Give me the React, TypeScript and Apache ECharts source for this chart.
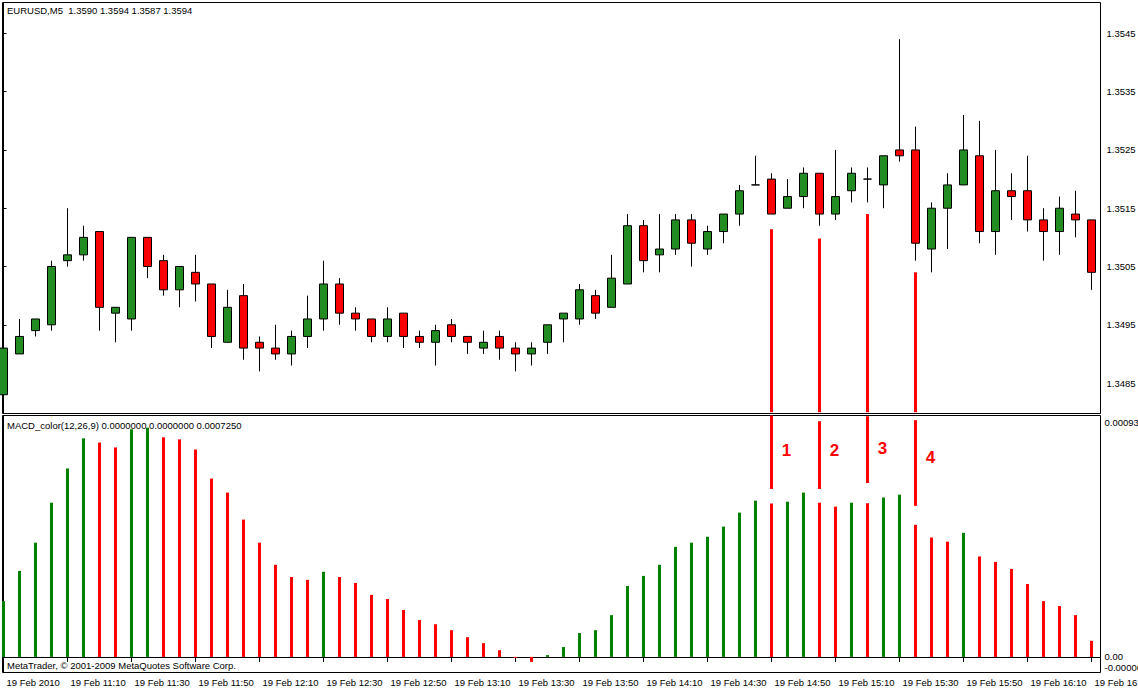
import React, { useEffect, useRef } from "react";
import * as echarts from "echarts";

// ---------- data ----------
const timeTickBars = [0, 4, 8, 12, 16, 20, 24, 28, 32, 36, 40, 44, 48, 52, 56, 60, 64, 68];
const timeTickLabels = [
  "19 Feb 2010", "19 Feb 11:10", "19 Feb 11:30", "19 Feb 11:50", "19 Feb 12:10", "19 Feb 12:30",
  "19 Feb 12:50", "19 Feb 13:10", "19 Feb 13:30", "19 Feb 13:50", "19 Feb 14:10", "19 Feb 14:30",
  "19 Feb 14:50", "19 Feb 15:10", "19 Feb 15:30", "19 Feb 15:50", "19 Feb 16:10", "19 Feb 16:30",
];

const opens = [
  1.3483, 1.3490, 1.3494, 1.3495, 1.3506, 1.3507, 1.3511, 1.3497, 1.3496, 1.3510,
  1.3506, 1.3501, 1.3504, 1.3502, 1.3492, 1.3500, 1.3492, 1.3491, 1.3490, 1.3493,
  1.3496, 1.3502, 1.3497, 1.3496, 1.3493, 1.3497, 1.3493, 1.3492, 1.3495, 1.3493,
  1.3491, 1.3493, 1.3491, 1.3490, 1.3492, 1.3496, 1.3496, 1.3500, 1.3498, 1.3502,
  1.3512, 1.3507, 1.3508, 1.3513, 1.3508, 1.3511, 1.3514, 1.3519, 1.3520, 1.3515,
  1.3517, 1.3521, 1.3514, 1.3518, 1.3520, 1.3519, 1.3525, 1.3525, 1.3508, 1.3515,
  1.3519, 1.3524, 1.3511, 1.3518, 1.3518, 1.3513, 1.3511, 1.3514, 1.3513,
];
const highs = [
  1.3496, 1.3496, 1.3496, 1.3506, 1.3515, 1.3512, 1.3511, 1.3498, 1.3510, 1.3510,
  1.3507, 1.3505, 1.3507, 1.3502, 1.3501, 1.3502, 1.3493, 1.3495, 1.3494, 1.3500,
  1.3506, 1.3503, 1.3498, 1.3496, 1.3498, 1.3497, 1.3494, 1.3495, 1.3496, 1.3493,
  1.3494, 1.3494, 1.3492, 1.3492, 1.3495, 1.3497, 1.3502, 1.3501, 1.3507, 1.3514,
  1.3513, 1.3514, 1.3514, 1.3514, 1.3512, 1.3514, 1.3519, 1.3524, 1.3521, 1.3520,
  1.3522, 1.3521, 1.3525, 1.3522, 1.3522, 1.3524, 1.3544, 1.3529, 1.3516, 1.3521,
  1.3531, 1.3530, 1.3525, 1.3521, 1.3524, 1.3515, 1.3517, 1.3518, 1.3513,
];
const lows = [
  1.3483, 1.3490, 1.3493, 1.3494, 1.3505, 1.3506, 1.3494, 1.3492, 1.3494, 1.3503,
  1.3500, 1.3498, 1.3499, 1.3491, 1.3492, 1.3489, 1.3487, 1.3489, 1.3488, 1.3491,
  1.3494, 1.3495, 1.3494, 1.3492, 1.3492, 1.3491, 1.3491, 1.3488, 1.3492, 1.3490,
  1.3490, 1.3489, 1.3487, 1.3488, 1.3490, 1.3492, 1.3495, 1.3496, 1.3498, 1.3502,
  1.3504, 1.3504, 1.3507, 1.3505, 1.3507, 1.3509, 1.3512, 1.3519, 1.3514, 1.3515,
  1.3515, 1.3512, 1.3513, 1.3516, 1.3516, 1.3515, 1.3523, 1.3506, 1.3504, 1.3508,
  1.3519, 1.3509, 1.3507, 1.3513, 1.3511, 1.3506, 1.3507, 1.3510, 1.3501,
];
const closes = [
  1.3491, 1.3493, 1.3496, 1.3505, 1.3507, 1.3510, 1.3498, 1.3498, 1.3510, 1.3505,
  1.3501, 1.3505, 1.3502, 1.3493, 1.3498, 1.3491, 1.3491, 1.3490, 1.3493, 1.3496,
  1.3502, 1.3497, 1.3496, 1.3493, 1.3496, 1.3493, 1.3492, 1.3494, 1.3493, 1.3492,
  1.3492, 1.3491, 1.3490, 1.3491, 1.3495, 1.3497, 1.3501, 1.3497, 1.3503, 1.3512,
  1.3506, 1.3508, 1.3513, 1.3509, 1.3511, 1.3514, 1.3518, 1.3519, 1.3514, 1.3517,
  1.3521, 1.3514, 1.3517, 1.3521, 1.3520, 1.3524, 1.3524, 1.3509, 1.3515, 1.3519,
  1.3525, 1.3511, 1.3518, 1.3517, 1.3513, 1.3511, 1.3515, 1.3513, 1.3504,
];

const macdHist = [
  0.000215, 0.000331, 0.000440, 0.000594, 0.000726, 0.000842, 0.000826, 0.000807, 0.000877, 0.000883,
  0.000846, 0.000838, 0.000799, 0.000687, 0.000633, 0.000529, 0.000440, 0.000355, 0.000308, 0.000297,
  0.000328, 0.000308, 0.000285, 0.000239, 0.000223, 0.000181, 0.000142, 0.000126, 0.000103, 0.000076,
  0.000053, 0.000026, -0.000004, -0.000019, 0.000007, 0.000038, 0.000092, 0.000103, 0.000161, 0.000273,
  0.000312, 0.000355, 0.000424, 0.000440, 0.000463, 0.000502, 0.000556, 0.000602, 0.000591, 0.000598,
  0.000633, 0.000594, 0.000579, 0.000594, 0.000592, 0.000614, 0.000625, 0.000509, 0.000460, 0.000444,
  0.000478, 0.000387, 0.000366, 0.000339, 0.000281, 0.000215, 0.000196, 0.000161, 0.000062,
];

const priceTicks = [1.3485, 1.3495, 1.3505, 1.3515, 1.3525, 1.3535, 1.3545];
const macdTicks = [0.00093, 0, -0.00006];
const macdTickLabels = ["0.00093", "0.00", "-0.00006"];

const signalBars = [48, 51, 54, 57];
const signalLabels = ["1", "2", "3", "4"];
const signalPriceTop = [1.35114, 1.35098, 1.3514, 1.3504];
const signalPriceBottom = [1.348, 1.348, 1.348, 1.348];
const signalMacdTop = [0.00093, 0.000908, 0.000927, 0.000912];
const signalMacdBottom = [0.000647, 0.000647, 0.00067, 0.000582];
const signalLabelValue = [0.000796, 0.000796, 0.000801, 0.000769];

const headerText = "EURUSD,M5  1.3590 1.3594 1.3587 1.3594";
const macdHeaderText = "MACD_color(12,26,9) 0.0000000 0.0000000 0.0007250";
const copyrightText = "MetaTrader, \u00a9 2001-2009 MetaQuotes Software Corp.";

// ---------- styling ----------
const FONT = '"Liberation Sans", Arial, sans-serif';
const FS = 9.5;
const X_MIN = -0.0625;
const X_MAX = 68.5625;
const CANDLE_UP = "#228B22";
const CANDLE_DOWN = "#FF0000";
const HIST_UP = "#008000";
const HIST_DOWN = "#FF0000";

export default function App() {
  const ref = useRef<HTMLDivElement>(null);

  useEffect(() => {
    document.body.style.margin = "0";
    if (!ref.current) return;
    const chart = echarts.init(ref.current, undefined, { renderer: "svg" });

    const candleData = opens.map((o, i) => [i, o, closes[i], lows[i], highs[i]]);
    const histData = macdHist.map((v, i) => ({
      value: [i, v],
      itemStyle: { color: i === 0 || v > macdHist[i - 1] ? HIST_UP : HIST_DOWN },
    }));

    const gridBase = {
      left: 2.5,
      right: 37.5,
      show: true,
      borderColor: "#000",
      borderWidth: 1,
      backgroundColor: "#fff",
      containLabel: false,
      outerBoundsMode: "none",
    };

    const option: any = {
      animation: false,
      backgroundColor: "#ffffff",
      grid: [
        { ...gridBase, top: 2.5, height: 411 },
        { ...gridBase, top: 415.5, height: 257 },
      ],
      xAxis: [
        { type: "value", gridIndex: 0, min: X_MIN, max: X_MAX, show: false },
        {
          type: "value",
          gridIndex: 1,
          min: X_MIN,
          max: X_MAX,
          splitLine: { show: false },
          axisLine: { show: true, lineStyle: { color: "#000", width: 1 } },
          axisTick: { show: true, customValues: timeTickBars, length: 5, inside: false, lineStyle: { color: "#000" } },
          axisLabel: {
            customValues: timeTickBars,
            formatter: (v: number) => {
              const k = timeTickBars.indexOf(Math.round(v));
              return k >= 0 ? timeTickLabels[k] : "";
            },
            align: "left",
            padding: [0, 0, 0, 3],
            margin: 5,
            color: "#000",
            fontSize: FS,
            fontFamily: FONT,
          },
        },
      ],
      yAxis: [
        {
          type: "value",
          gridIndex: 0,
          position: "right",
          min: 1.347978,
          max: 1.35503,
          splitLine: { show: false },
          axisLine: { show: true, lineStyle: { color: "#000", width: 1 } },
          axisTick: { show: true, customValues: priceTicks, length: 3, lineStyle: { color: "#000" } },
          axisLabel: {
            customValues: priceTicks,
            formatter: (v: number) => v.toFixed(4),
            margin: 6,
            color: "#000",
            fontSize: FS,
            fontFamily: FONT,
          },
        },
        {
          type: "value",
          gridIndex: 1,
          position: "right",
          min: -0.00006,
          max: 0.00093,
          splitLine: { show: false },
          axisLine: { show: true, lineStyle: { color: "#000", width: 1 } },
          axisTick: { show: true, customValues: macdTicks, length: 3, lineStyle: { color: "#000" } },
          axisLabel: {
            customValues: macdTicks,
            formatter: (v: number) => {
              let k = 0;
              macdTicks.forEach((t, j) => {
                if (Math.abs(t - v) < 1e-9) k = j;
              });
              return "{" + ["t", "m", "b"][k] + "|" + macdTickLabels[k] + "}";
            },
            margin: 4,
            color: "#000",
            fontSize: FS,
            fontFamily: FONT,
            rich: {
              t: { padding: [13, 0, 0, 0], color: "#000", fontSize: FS, fontFamily: FONT },
              m: { color: "#000", fontSize: FS, fontFamily: FONT },
              b: { padding: [0, 0, 11, 0], color: "#000", fontSize: FS, fontFamily: FONT },
            },
          },
        },
      ],
      series: [
        {
          type: "candlestick",
          xAxisIndex: 0,
          yAxisIndex: 0,
          data: candleData,
          encode: { x: 0, y: [1, 2, 3, 4] },
          barWidth: 9,
          itemStyle: {
            color: CANDLE_UP,
            color0: CANDLE_DOWN,
            borderColor: "#000",
            borderColor0: "#000",
            borderColorDoji: "#000",
            borderWidth: 1,
          },
          emphasis: { disabled: true },
          markLine: {
            silent: true,
            symbol: ["none", "none"],
            label: { show: false },
            lineStyle: { color: "#FF0000", width: 3, type: "solid" },
            emphasis: { disabled: true },
            data: signalBars.map((b, i) => [
              { coord: [b, signalPriceTop[i]] },
              { coord: [b, signalPriceBottom[i]] },
            ]),
          },
        },
        {
          type: "bar",
          xAxisIndex: 1,
          yAxisIndex: 1,
          data: histData,
          barWidth: 3,
          emphasis: { disabled: true },
          markLine: {
            silent: true,
            symbol: ["none", "none"],
            label: { show: false },
            lineStyle: { color: "#FF0000", width: 3, type: "solid" },
            emphasis: { disabled: true },
            data: signalBars.map((b, i) => [
              { coord: [b, signalMacdTop[i]] },
              { coord: [b, signalMacdBottom[i]] },
            ]),
          },
          markPoint: {
            silent: true,
            data: signalBars.map((b, i) => ({
              coord: [b, signalLabelValue[i]],
              symbol: "rect",
              symbolSize: 1,
              itemStyle: { color: "rgba(0,0,0,0)" },
              label: {
                show: true,
                formatter: signalLabels[i],
                position: "inside",
                offset: [15, 0],
                color: "#FF0000",
                fontSize: 17,
                fontWeight: "bold",
                fontFamily: FONT,
              },
            })),
          },
        },
      ],
      graphic: [
        { type: "text", x: 7, y: 10, z: 10, style: { text: headerText, fill: "#000", font: `${FS}px ${FONT}`, verticalAlign: "middle" } },
        { type: "text", x: 7, y: 425.5, z: 10, style: { text: macdHeaderText, fill: "#000", font: `${FS}px ${FONT}`, verticalAlign: "middle" } },
        { type: "text", x: 7, y: 665, z: 10, style: { text: copyrightText, fill: "#000", font: `${FS}px ${FONT}`, verticalAlign: "middle" } },
      ],
    };

    chart.setOption(option);
    return () => chart.dispose();
  }, []);

  return <div ref={ref} style={{ width: 1138, height: 690 }} />;
}
